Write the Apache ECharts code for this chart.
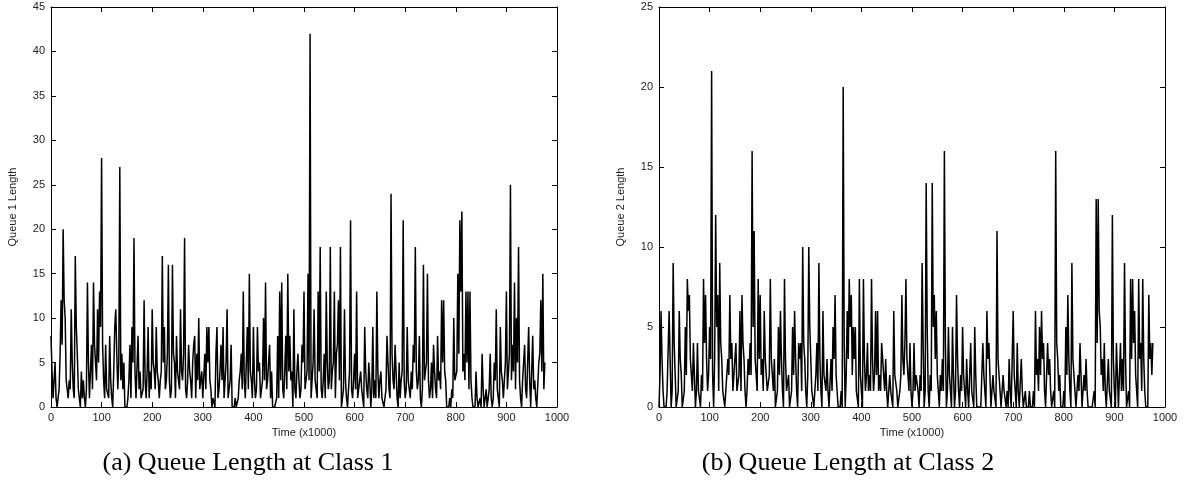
<!DOCTYPE html>
<html>
<head>
<meta charset="utf-8">
<script src="https://cdn.jsdelivr.net/npm/echarts@6/dist/echarts.min.js"></script>
<style>
html,body{margin:0;padding:0;background:#fff;}
#chart{width:1194px;height:492px;}
</style>
</head>
<body>
<div id="chart"></div>
<script>
// Time axis (x1000): "a" samples at t = 4i, "b" samples at t = 4i + 2
const timeStep = 4;

// Queue 1 length, samples at t = 4i, by 100-unit block
const q1a_000 = [8,1,5,0,2,12,20,10,2,3,11,2,17,6,1,4,3,0,14,1,7,14,7,11,13];
const q1a_100 = [28,3,7,2,8,1,4,11,2,27,6,5,0,1,7,9,19,1,8,4,1,12,1,9,4];
const q1a_200 = [11,4,9,3,3,17,9,3,16,1,16,5,8,3,11,3,19,1,7,3,5,8,6,10,2];
const q1a_300 = [1,6,9,9,2,1,0,9,2,7,9,3,11,2,7,0,1,0,3,6,13,1,9,15,3];
const q1a_400 = [9,1,9,5,1,10,14,3,7,4,0,0,8,13,14,1,8,15,8,4,11,1,6,1,7];
const q1a_500 = [13,3,15,42,1,11,2,13,18,1,6,13,2,18,4,13,6,12,18,1,11,1,2,21,1];
const q1a_600 = [6,13,1,4,1,9,2,5,0,9,3,13,1,4,1,0,8,2,24,3,7,1,5,3,21];
const q1a_700 = [1,9,2,4,7,18,2,8,0,16,4,15,1,5,7,2,8,4,12,12,3,0,1,2,10];
const q1a_800 = [3,15,21,22,6,13,13,13,1,0,4,0,1,6,0,2,1,6,0,5,11,1,9,3,1];
const q1a_900 = [13,4,25,7,14,10,18,1,3,7,1,9,0,8,3,0,5,12,15,5];
// Queue 1 length, samples at t = 4i + 2
const q1b_000 = [4,3,1,1,6,7,12,3,1,2,5,1,9,2,0,1,1,2,5,1,2,7,3,5,9];
const q1b_100 = [7,1,2,1,3,0,9,6,5,3,2,0,0,3,1,5,4,1,2,1,2,3,4,1,2];
const q1b_200 = [5,2,4,1,4,5,2,6,3,2,6,1,4,2,4,6,2,3,4,1,7,1,3,2,4];
const q1b_300 = [1,2,5,3,0,1,6,1,4,3,1,5,1,3,0,0,0,1,4,2,3,5,2,4,1];
const q1b_400 = [3,2,4,1,3,3,2,5,1,0,0,1,1,3,2,4,2,4,3,0,2,4,3,2,5];
const q1b_500 = [2,4,3,1,5,3,1,4,2,3,1,5,3,2,5,1,7,3,0,2,3,0,4,2,3];
const q1b_600 = [2,1,3,2,0,4,1,3,2,1,1,4,3,1,0,2,5,1,6,2,4,0,1,4,3];
const q1b_700 = [2,3,1,2,5,4,3,1,2,3,5,3,2,1,4,1,3,2,5,4,0,0,0,1,3];
const q1b_800 = [4,6,13,4,3,5,2,3,0,0,1,0,0,2,1,0,2,1,1,3,2,0,4,1,5];
const q1b_900 = [2,6,3,4,2,5,3,0,5,2,1,3,0,2,1,0,6,4,2];

// Queue 2 length, samples at t = 4i
const q2a_000 = [0,6,1,0,1,6,0,9,2,0,6,2,0,5,8,7,2,4,0,4,1,2,8,7,1];
const q2a_100 = [5,21,0,12,7,9,3,1,1,3,7,4,2,4,1,6,7,3,0,3,4,16,11,2,8];
const q2a_200 = [7,3,6,2,1,8,2,3,0,5,6,1,8,1,2,0,5,6,1,4,4,10,3,0,10];
const q2a_300 = [3,1,1,4,9,1,6,2,3,0,3,5,7,1,0,1,20,0,6,8,7,5,5,1,8];
const q2a_400 = [1,8,1,4,2,8,1,6,6,2,4,2,3,0,2,1,6,2,0,1,7,2,8,3,4];
const q2a_500 = [0,4,2,1,2,9,0,14,1,2,14,7,6,1,2,3,16,0,5,1,5,0,7,1,2];
const q2a_600 = [5,1,3,0,4,1,5,0,0,0,4,1,6,4,0,2,1,11,3,0,2,1,1,3,0];
const q2a_700 = [6,1,4,0,3,0,1,0,1,0,1,6,3,5,6,4,0,4,3,0,1,16,3,2,0];
const q2a_800 = [1,5,7,1,9,3,0,2,4,0,2,3,0,0,0,1,13,13,5,3,4,0,3,1,12];
const q2a_900 = [1,4,0,4,3,9,0,1,8,8,6,1,8,4,8,1,0,7,4,4];
// Queue 2 length, samples at t = 4i + 2
const q2b_000 = [2,3,0,0,1,3,1,4,0,1,3,0,1,2,6,3,1,2,1,1,0,1,4,3,2];
const q2b_100 = [3,2,3,5,1,4,1,0,1,2,3,1,2,1,2,1,4,1,1,2,2,5,3,1,3];
const q2b_200 = [2,1,3,1,2,3,1,0,1,2,3,0,3,1,0,1,2,3,0,3,1,4,1,2,5];
const q2b_300 = [1,0,2,1,3,0,2,1,1,0,1,3,2,0,0,0,4,2,3,5,2,3,1,0,2];
const q2b_400 = [0,3,2,1,1,3,2,2,1,1,3,1,1,0,1,0,2,1,0,2,3,4,3,1,1];
const q2b_500 = [1,1,2,0,1,4,1,5,0,1,5,3,2,0,1,1,4,1,2,0,2,1,3,0,1];
const q2b_600 = [2,0,1,0,1,0,2,0,0,0,2,0,3,2,0,1,0,3,1,0,1,0,0,1,0];
const q2b_700 = [2,0,1,0,1,0,0,0,0,0,0,2,1,2,3,1,0,2,1,0,0,4,1,0,0];
const q2b_800 = [0,2,3,0,3,1,0,1,2,0,1,1,0,0,0,0,4,6,2,1,1,0,1,0,3];
const q2b_900 = [0,2,0,1,1,3,0,0,3,4,2,0,3,1,3,0,0,3,2];

// Axis ranges / labels
const xRange = [0, 1000], xInterval = 100;
const y1Range = [0, 45], y1Interval = 5;
const y2Range = [0, 25], y2Interval = 5;
const xName = 'Time (x1000)';
const y1Name = 'Queue 1 Length';
const y2Name = 'Queue 2 Length';
const captions = ['(a) Queue Length at Class 1', '(b) Queue Length at Class 2'];

const q1a = [].concat(q1a_000,q1a_100,q1a_200,q1a_300,q1a_400,q1a_500,q1a_600,q1a_700,q1a_800,q1a_900);
const q1b = [].concat(q1b_000,q1b_100,q1b_200,q1b_300,q1b_400,q1b_500,q1b_600,q1b_700,q1b_800,q1b_900);
const q2a = [].concat(q2a_000,q2a_100,q2a_200,q2a_300,q2a_400,q2a_500,q2a_600,q2a_700,q2a_800,q2a_900);
const q2b = [].concat(q2b_000,q2b_100,q2b_200,q2b_300,q2b_400,q2b_500,q2b_600,q2b_700,q2b_800,q2b_900);
function merge(a, b) {
  const out = [];
  a.forEach((v, i) => {
    out.push([i * timeStep, v]);
    if (i < b.length) out.push([i * timeStep + timeStep / 2, b[i]]);
  });
  return out;
}

const chart = echarts.init(document.getElementById('chart'), null, {renderer: 'canvas'});
const tickFont = {color: '#222', fontSize: 11, fontFamily: 'Liberation Sans, Arial, sans-serif'};
const lineStyle = {color: '#000', width: 1};
const plain = v => String(v);

function xAxes(gridIndex) {
  return [
    {gridIndex, type: 'value', min: xRange[0], max: xRange[1], interval: xInterval, position: 'bottom',
     name: xName, nameLocation: 'middle', nameGap: 20, nameTextStyle: tickFont,
     axisLine: {onZero: false, lineStyle}, axisTick: {inside: true, length: 5, lineStyle},
     axisLabel: Object.assign({margin: 5, formatter: plain}, tickFont), splitLine: {show: false}},
    {gridIndex, type: 'value', min: xRange[0], max: xRange[1], interval: xInterval, position: 'top',
     axisLine: {onZero: false, lineStyle}, axisTick: {inside: true, length: 5, lineStyle},
     axisLabel: {show: false}, splitLine: {show: false}}
  ];
}
function yAxes(gridIndex, range, interval, name) {
  return [
    {gridIndex, type: 'value', min: range[0], max: range[1], interval, position: 'left',
     name, nameLocation: 'middle', nameGap: 33, nameTextStyle: tickFont,
     axisLine: {onZero: false, lineStyle}, axisTick: {inside: true, length: 5, lineStyle},
     axisLabel: Object.assign({margin: 6, formatter: plain}, tickFont), splitLine: {show: false}},
    {gridIndex, type: 'value', min: range[0], max: range[1], interval, position: 'right',
     axisLine: {onZero: false, lineStyle}, axisTick: {inside: true, length: 5, lineStyle},
     axisLabel: {show: false}, splitLine: {show: false}}
  ];
}

const captionFont = '26px "Liberation Serif", "DejaVu Serif", serif';
chart.setOption({
  animation: false,
  backgroundColor: '#fff',
  grid: [
    {left: 51, top: 7, width: 506, height: 400},
    {left: 659, top: 7, width: 506, height: 400}
  ],
  xAxis: [].concat(xAxes(0), xAxes(1)),
  yAxis: [].concat(yAxes(0, y1Range, y1Interval, y1Name), yAxes(1, y2Range, y2Interval, y2Name)),
  series: [
    {type: 'line', xAxisIndex: 0, yAxisIndex: 0, data: merge(q1a, q1b), showSymbol: false,
     lineStyle: {color: '#000', width: 1.5}, silent: true},
    {type: 'line', xAxisIndex: 2, yAxisIndex: 2, data: merge(q2a, q2b), showSymbol: false,
     lineStyle: {color: '#000', width: 1.5}, silent: true}
  ],
  graphic: [
    {type: 'text', x: 248, y: 463, style: {text: captions[0], fill: '#000', font: captionFont,
      textAlign: 'center', textVerticalAlign: 'middle'}},
    {type: 'text', x: 848, y: 463, style: {text: captions[1], fill: '#000', font: captionFont,
      textAlign: 'center', textVerticalAlign: 'middle'}}
  ]
});
</script>
</body>
</html>
